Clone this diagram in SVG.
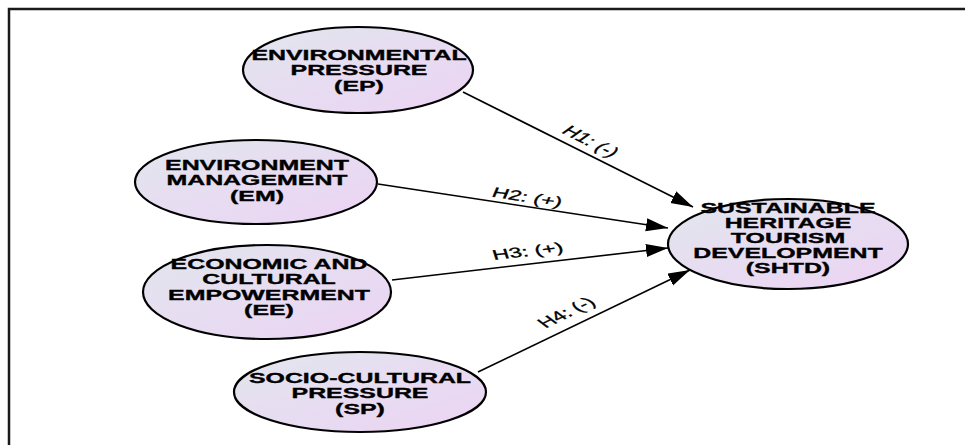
<svg xmlns="http://www.w3.org/2000/svg" width="965" height="445" viewBox="0 0 965 445">
<defs>
<linearGradient id="fill" x1="0" y1="0" x2="1" y2="1">
<stop offset="0" stop-color="#e2e6ee"/>
<stop offset="1" stop-color="#ecd3f4"/>
</linearGradient>
<marker id="arr" markerUnits="userSpaceOnUse" markerWidth="24" markerHeight="14" refX="22" refY="6.5" orient="auto">
<path d="M0,0 L22,6.5 L0,13 z" fill="#000"/>
</marker>
<style>
.node ellipse{fill:url(#fill);stroke:#000;stroke-width:2.2}
.node text{font-family:"Liberation Sans",Arial,sans-serif;font-size:15px;font-weight:bold;fill:#000;text-anchor:middle;stroke:#000;stroke-width:0.35}
.edge line{stroke:#000;stroke-width:1.6;marker-end:url(#arr)}
.lbl{font-family:"Liberation Sans",Arial,sans-serif;font-size:14px;fill:#000;text-anchor:middle;stroke:#000;stroke-width:0.3}
.frame{stroke:#1a1a1a;stroke-width:2.5;fill:none}
</style>
</defs>
<rect width="965" height="445" fill="#fff"/>
<path class="frame" d="M9,445 L9,9 L965,9"/>

<g id="connectors" class="edge">
<line x1="463" y1="92" x2="693" y2="207"/>
<line x1="378" y1="184" x2="668" y2="228"/>
<line x1="392" y1="280" x2="668" y2="248"/>
<line x1="478" y1="372" x2="690" y2="270"/>
<text class="lbl" transform="translate(590,142) scale(1.66,1) rotate(40)" y="4">H1: (-)</text>
<text class="lbl" transform="translate(527,198) scale(1.66,1) rotate(14.2)" y="4">H2: (+)</text>
<text class="lbl" transform="translate(528,252) scale(1.66,1) rotate(-10.9)" y="4">H3: (+)</text>
<text class="lbl" transform="translate(567,313) scale(1.66,1) rotate(-38.6)" y="4">H4: (-)</text>
</g>

<g id="EP" class="node">
<ellipse cx="358" cy="70" rx="115" ry="43"/>
<g transform="translate(359,0) scale(1.66,1)">
<text y="60">ENVIRONMENTAL</text>
<text y="75.5">PRESSURE</text>
<text y="91">(EP)</text>
</g>
</g>

<g id="EM" class="node">
<ellipse cx="256" cy="182" rx="121" ry="42"/>
<g transform="translate(257,0) scale(1.66,1)">
<text y="170">ENVIRONMENT</text>
<text y="185.5">MANAGEMENT</text>
<text y="201">(EM)</text>
</g>
</g>

<g id="EE" class="node">
<ellipse cx="267" cy="292" rx="124" ry="47"/>
<g transform="translate(269,0) scale(1.66,1)">
<text y="269">ECONOMIC AND</text>
<text y="284.5">CULTURAL</text>
<text y="300">EMPOWERMENT</text>
<text y="315.5">(EE)</text>
</g>
</g>

<g id="SP" class="node">
<ellipse cx="360" cy="392" rx="126" ry="40"/>
<g transform="translate(360,0) scale(1.66,1)">
<text y="383">SOCIO-CULTURAL</text>
<text y="398.5">PRESSURE</text>
<text y="414">(SP)</text>
</g>
</g>

<g id="SHTD" class="node">
<ellipse cx="788" cy="244" rx="120" ry="45"/>
<g transform="translate(788,0) scale(1.66,1)">
<text y="213">SUSTAINABLE</text>
<text y="228">HERITAGE</text>
<text y="243">TOURISM</text>
<text y="258">DEVELOPMENT</text>
<text y="273.5">(SHTD)</text>
</g>
</g>
</svg>
